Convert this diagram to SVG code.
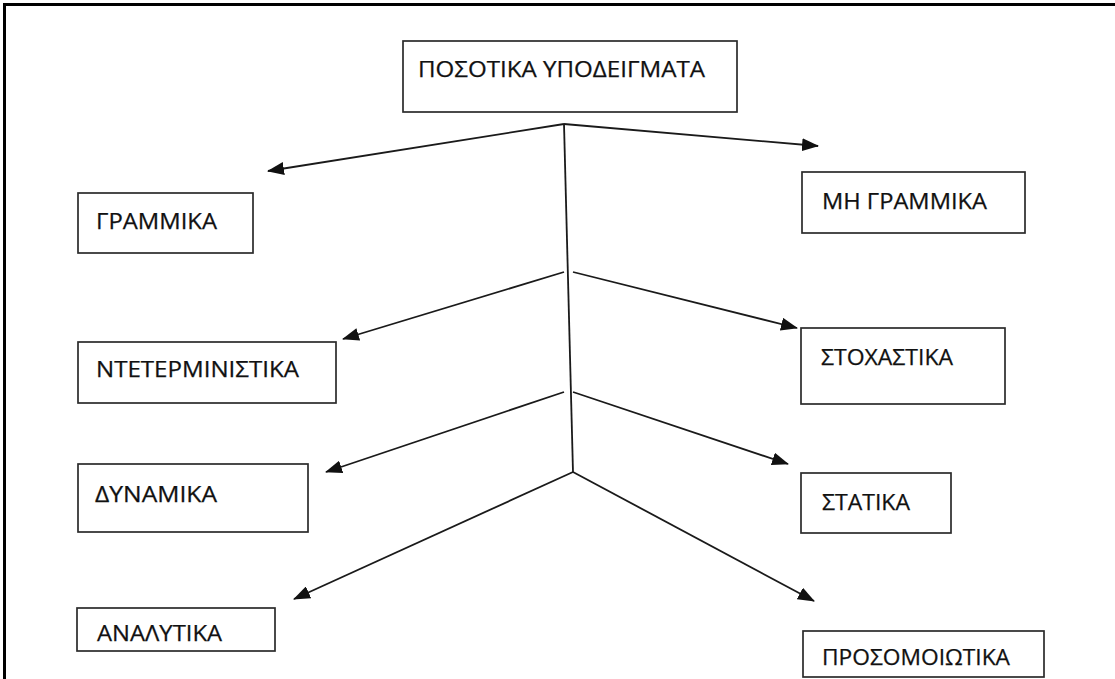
<svg xmlns="http://www.w3.org/2000/svg" width="1115" height="679" viewBox="0 0 1115 679">
  <defs>
    <style>
      .frame { fill: none; stroke: #000; stroke-width: 3; }
      .box { fill: #fff; stroke: #2b2b2b; stroke-width: 1.7; }
      .label { font-family: "Open Sans", "Noto Sans", "DejaVu Sans", sans-serif; font-size: 22px; fill: #111; stroke: #111; stroke-width: 0.25; }
      .link { fill: none; stroke: #1a1a1a; stroke-width: 1.8; }
      .arrow { fill: none; stroke: #1a1a1a; stroke-width: 1.8; marker-end: url(#head); }
    </style>
    <marker id="head" viewBox="0 0 17 13" refX="16" refY="6.5" markerWidth="17" markerHeight="13" markerUnits="userSpaceOnUse" orient="auto">
      <path d="M0,0 L17,6.5 L0,13 Z" fill="#111"/>
    </marker>
  </defs>
  <rect width="1115" height="679" fill="#fff"/>

  <!-- page border: top and left edges -->
  <path class="frame" d="M4.5,679 V4.5 H1115"/>

  <!-- connectors -->
  <g id="connectors">
    <path class="link" d="M564,124 L573,472"/>
    <path class="arrow" d="M564,124 L268,171"/>
    <path class="arrow" d="M564,124 L818,146"/>
    <path class="arrow" d="M564,272 L343,339"/>
    <path class="arrow" d="M573,272 L797,328"/>
    <path class="arrow" d="M564,392 L326,472"/>
    <path class="arrow" d="M573,392 L788,464"/>
    <path class="arrow" d="M573,472 L294,599"/>
    <path class="arrow" d="M573,472 L814,601"/>
  </g>

  <!-- nodes -->
  <g id="node-root">
    <rect class="box" x="403" y="41" width="334" height="71"/>
    <text class="label" x="418" y="77" textLength="287" lengthAdjust="spacingAndGlyphs">ΠΟΣΟΤΙΚΑ ΥΠΟΔΕΙΓΜΑΤΑ</text>
  </g>
  <g id="node-grammika">
    <rect class="box" x="78" y="193" width="175" height="60"/>
    <text class="label" x="96" y="229" textLength="121" lengthAdjust="spacingAndGlyphs">ΓΡΑΜΜΙΚΑ</text>
  </g>
  <g id="node-mi-grammika">
    <rect class="box" x="802" y="172" width="223" height="61"/>
    <text class="label" x="822" y="209" textLength="165" lengthAdjust="spacingAndGlyphs">ΜΗ ΓΡΑΜΜΙΚΑ</text>
  </g>
  <g id="node-ntetermnistika">
    <rect class="box" x="78" y="342" width="258" height="61"/>
    <text class="label" x="96" y="377" textLength="203" lengthAdjust="spacingAndGlyphs">ΝΤΕΤΕΡΜΙΝΙΣΤΙΚΑ</text>
  </g>
  <g id="node-stoxastika">
    <rect class="box" x="801" y="328" width="204" height="76"/>
    <text class="label" x="821" y="365" textLength="132" lengthAdjust="spacingAndGlyphs">ΣΤΟΧΑΣΤΙΚΑ</text>
  </g>
  <g id="node-dynamika">
    <rect class="box" x="78" y="464" width="230" height="68"/>
    <text class="label" x="95" y="502" textLength="122" lengthAdjust="spacingAndGlyphs">ΔΥΝΑΜΙΚΑ</text>
  </g>
  <g id="node-statika">
    <rect class="box" x="801" y="473" width="150" height="60"/>
    <text class="label" x="822" y="510" textLength="88" lengthAdjust="spacingAndGlyphs">ΣΤΑΤΙΚΑ</text>
  </g>
  <g id="node-analytika">
    <rect class="box" x="77" y="608" width="198" height="43"/>
    <text class="label" x="97" y="641" textLength="125" lengthAdjust="spacingAndGlyphs">ΑΝΑΛΥΤΙΚΑ</text>
  </g>
  <g id="node-prosomoiotika">
    <rect class="box" x="803" y="631" width="241" height="46"/>
    <text class="label" x="822" y="665" textLength="188" lengthAdjust="spacingAndGlyphs">ΠΡΟΣΟΜΟΙΩΤΙΚΑ</text>
  </g>
</svg>
